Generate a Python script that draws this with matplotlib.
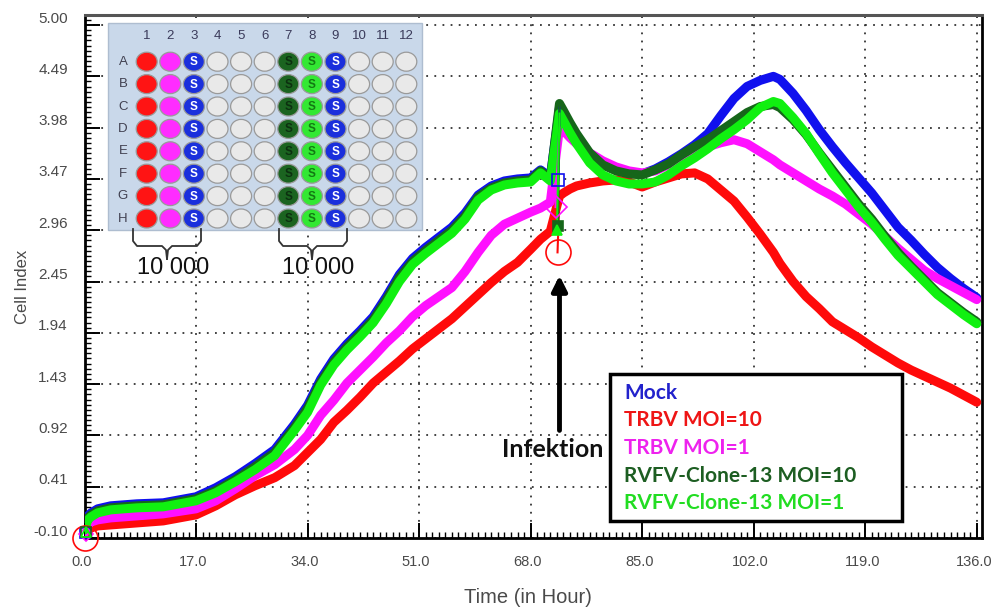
import numpy as np
import matplotlib
matplotlib.use("Agg")
import matplotlib.pyplot as plt
from matplotlib.patches import Ellipse, Rectangle
from matplotlib.ticker import FixedLocator, MultipleLocator
import matplotlib.transforms as mtransforms

# ---------------- data ----------------
time_h = [0, 0.5, 1, 2, 4, 8, 12, 17, 20, 23, 26, 29, 32, 34, 36, 38, 40, 42, 44, 46,
          48, 50, 52, 54, 56, 58, 60, 62, 64, 66, 68, 69.5, 71,
          72.4, 73, 74, 75, 77, 79, 81, 83, 85, 87, 89, 91, 93, 95, 97, 99, 101, 103, 105,
          106, 108, 110, 112, 114, 116, 118, 120, 122, 124, 126, 128, 130, 132, 134, 136]

mock = [0.00, 0.12, 0.15, 0.19, 0.22, 0.24, 0.25, 0.31, 0.40, 0.51, 0.64, 0.78, 1.03, 1.22, 1.48, 1.68,
        1.83, 1.96, 2.10, 2.30, 2.52, 2.68, 2.79, 2.89, 2.99, 3.13, 3.31, 3.40, 3.45, 3.47, 3.48, 3.56, 3.49,
        4.18, 4.10, 3.98, 3.88, 3.72, 3.61, 3.56, 3.53, 3.52, 3.57, 3.64, 3.72, 3.81, 3.92, 4.10, 4.27, 4.39,
        4.45, 4.49, 4.46, 4.32, 4.15, 3.96, 3.79, 3.63, 3.48, 3.33, 3.16, 2.99, 2.86, 2.72, 2.59, 2.48, 2.38, 2.29]

trbv_moi10 = [-0.10, -0.03, 0.00, 0.02, 0.03, 0.05, 0.07, 0.13, 0.22, 0.33, 0.42, 0.50, 0.62, 0.75, 0.88, 1.05,
              1.17, 1.30, 1.44, 1.55, 1.66, 1.78, 1.88, 1.98, 2.08, 2.20, 2.32, 2.44, 2.55, 2.64, 2.77, 2.87, 2.95,
              3.30, 3.33, 3.37, 3.40, 3.43, 3.45, 3.46, 3.44, 3.39, 3.44, 3.48, 3.52, 3.53, 3.47, 3.36, 3.25, 3.09,
              2.92, 2.74, 2.63, 2.45, 2.30, 2.18, 2.05, 1.97, 1.89, 1.80, 1.72, 1.64, 1.57, 1.51, 1.45, 1.39, 1.32, 1.25]

trbv_moi1 = [-0.05, 0.03, 0.06, 0.08, 0.10, 0.12, 0.14, 0.19, 0.27, 0.39, 0.52, 0.63, 0.78, 0.92, 1.12, 1.27,
             1.44, 1.57, 1.70, 1.84, 1.96, 2.10, 2.21, 2.30, 2.39, 2.55, 2.74, 2.91, 3.02, 3.08, 3.14, 3.18, 3.24,
             3.98, 3.95, 3.88, 3.82, 3.73, 3.65, 3.59, 3.55, 3.53, 3.55, 3.61, 3.68, 3.74, 3.79, 3.83, 3.86, 3.82,
             3.74, 3.66, 3.61, 3.53, 3.45, 3.37, 3.30, 3.22, 3.12, 3.02, 2.90, 2.78, 2.67, 2.56, 2.48, 2.41, 2.34, 2.27]

rvfv_moi10 = [-0.01, 0.10, 0.13, 0.17, 0.20, 0.22, 0.23, 0.29, 0.37, 0.48, 0.61, 0.75, 1.00, 1.19, 1.45, 1.65,
              1.80, 1.93, 2.07, 2.27, 2.49, 2.65, 2.76, 2.86, 2.96, 3.10, 3.29, 3.38, 3.43, 3.45, 3.46, 3.55, 3.47,
              4.22, 4.15, 4.03, 3.92, 3.73, 3.61, 3.55, 3.52, 3.51, 3.56, 3.62, 3.71, 3.79, 3.86, 3.95, 4.04, 4.13,
              4.19, 4.21, 4.18, 4.06, 3.91, 3.73, 3.56, 3.39, 3.22, 3.07, 2.90, 2.74, 2.60, 2.47, 2.34, 2.24, 2.14, 2.05]

rvfv_moi1 = [-0.02, 0.08, 0.11, 0.15, 0.18, 0.20, 0.21, 0.27, 0.35, 0.46, 0.58, 0.72, 0.97, 1.15, 1.42, 1.62,
             1.77, 1.90, 2.04, 2.23, 2.45, 2.62, 2.73, 2.83, 2.93, 3.07, 3.26, 3.36, 3.41, 3.43, 3.44, 3.53, 3.45,
             4.12, 4.05, 3.93, 3.82, 3.63, 3.51, 3.45, 3.42, 3.42, 3.44, 3.51, 3.60, 3.68, 3.77, 3.87, 3.96, 4.06,
             4.18, 4.24, 4.22, 4.08, 3.92, 3.72, 3.53, 3.36, 3.19, 3.04, 2.87, 2.71, 2.58, 2.45, 2.32, 2.22, 2.12, 2.03]

series_labels = ["Mock", "TRBV MOI=10", "TRBV MOI=1", "RVFV-Clone-13 MOI=10", "RVFV-Clone-13 MOI=1"]
series_values = [mock, trbv_moi10, trbv_moi1, rvfv_moi10, rvfv_moi1]
line_colors = ["#1010ee", "#ff0a0a", "#ff10ff", "#16661a", "#10f010"]
legend_colors = ["#2222cc", "#ee1515", "#ee22ee", "#1d5e22", "#22dd22"]
draw_order = [1, 0, 2, 3, 4]

# markers at start and at the infection point
start_t = [0.0, 0.0, 0.3, 0.3, 0.3]
start_v = [-0.05, -0.10, -0.06, -0.04, -0.04]
infect_t = [72.2, 72.1, 71.8, 72.2, 72.0]
infect_v = [3.46, 2.74, 3.19, 3.00, 2.96]
marker_styles = ["s", "o", "D", "s", "^"]
marker_sizes_inf = [9, 18, 11, 7, 7]

yticks = [-0.10, 0.41, 0.92, 1.43, 1.94, 2.45, 2.96, 3.47, 3.98, 4.49, 5.00]
ytick_labels = ["-0.10", "0.41", "0.92", "1.43", "1.94", "2.45", "2.96", "3.47", "3.98", "4.49", "5.00"]
xticks = [0, 17, 34, 51, 68, 85, 102, 119, 136]
xtick_labels = ["0.0", "17.0", "34.0", "51.0", "68.0", "85.0", "102.0", "119.0", "136.0"]

# plate inset
plate_rows = list("ABCDEFGH")
plate_cols = [str(i) for i in range(1, 13)]
well_colors = ["#ff1414", "#ff2cff", "#1a2fdc", "#e9e9e9", "#e9e9e9", "#e9e9e9",
               "#1b6420", "#33e833", "#1a2fdc", "#e9e9e9", "#e9e9e9", "#e9e9e9"]
well_marks = ["", "", "S", "", "", "", "S", "S", "S", "", "", ""]
well_mark_colors = ["w", "w", "w", "w", "w", "w", "#0c3010", "#137a13", "w", "w", "w", "w"]
seeding_label = "10 000"

# ---------------- figure ----------------
W, H = 993, 610
fig = plt.figure(figsize=(W / 100, H / 100), dpi=100)
fig.patch.set_facecolor("white")

x0, x1, y0, y1 = 84.5, 982, 538, 15
ax = fig.add_axes([x0 / W, 1 - y0 / H, (x1 - x0) / W, (y0 - y1) / H])
ax.set_xlim(0, 136.8)
ax.set_ylim(-0.10, 5.10)

for i in draw_order:
    ax.plot(time_h, series_values[i], color=line_colors[i], lw=6.5,
            solid_capstyle="round", solid_joinstyle="round", zorder=3 + draw_order.index(i) * 0.1)

for i in range(5):
    c = line_colors[i]
    ax.plot([infect_t[i], time_h[33]], [infect_v[i], series_values[i][33]], color=c, lw=1.5, zorder=4)
    ax.plot(infect_t[i], infect_v[i], marker=marker_styles[i], ms=marker_sizes_inf[i],
            mfc="none" if i < 3 else c, mec=c, mew=1.2, zorder=5, clip_on=False)
    ax.plot(start_t[i], start_v[i], marker=marker_styles[i], ms=marker_sizes_inf[i] if i == 1 else 7,
            mfc="none", mec=c, mew=1.2, zorder=5, clip_on=False)

ax.set_xticks(xticks)
ax.set_xticklabels(xtick_labels)
ax.set_yticks(yticks)
ax.set_yticklabels(ytick_labels)
ax.xaxis.set_minor_locator(MultipleLocator(1.0))
ax.yaxis.set_minor_locator(FixedLocator(np.arange(-0.10, 5.10, 0.051)))
ax.tick_params(which="major", direction="in", length=11, width=1.4, color="black",
               labelcolor="#4a4a4a", pad=12)
ax.tick_params(axis="y", which="major", labelsize=11)
ax.tick_params(axis="x", which="major", labelsize=10.5)
ax.tick_params(which="minor", direction="in", length=4.5, width=1.0, color="black")
for lab in ax.get_xticklabels() + ax.get_yticklabels():
    lab.set_fontfamily("Liberation Sans")
offset_y = mtransforms.ScaledTranslation(0, 8 / 100, fig.dpi_scale_trans)
for lab in ax.get_yticklabels():
    lab.set_transform(lab.get_transform() + offset_y)
offset_x = mtransforms.ScaledTranslation(-3 / 100, 0, fig.dpi_scale_trans)
for lab in ax.get_xticklabels():
    lab.set_transform(lab.get_transform() + offset_x)

ax.grid(True, which="major", linestyle=(0, (1, 3.5)), color="#333333", lw=1.3)
for s in ["left", "bottom", "right"]:
    ax.spines[s].set_linewidth(2)
    ax.spines[s].set_color("black")
ax.spines["top"].set_linewidth(2.2)
ax.spines["top"].set_color("#555555")

ax.set_ylabel("Cell Index", fontsize=12, color="#4a4a4a", family="Liberation Sans", va="center")
ax.yaxis.set_label_coords(-0.0696, 0.48)
ax.set_xlabel("Time (in Hour)", fontsize=14.5, color="#4a4a4a", family="Liberation Sans", va="center")
ax.xaxis.set_label_coords(0.494, -0.113)

# infection arrow
ax.annotate("", xy=(72.4, 2.51), xytext=(72.4, 0.97),
            arrowprops=dict(arrowstyle="-|>,head_length=0.9,head_width=0.45", lw=3.5,
                            color="black", shrinkA=0, shrinkB=0), zorder=6)
ax.text(71.4, 0.78, "Infektion", ha="center", va="center", fontsize=18,
        fontweight="bold", family="Lato", color="#111111", zorder=6)

# ---------------- overlay in pixel coordinates ----------------
ov = fig.add_axes([0, 0, 1, 1], zorder=10)
ov.set_xlim(0, W)
ov.set_ylim(H, 0)
ov.axis("off")
ov.patch.set_alpha(0)

ov.add_patch(Rectangle((108, 23), 314, 207, fc="#c9d8ea", ec="#aebdd0", lw=1))
cx0, dx = 146.7, 23.6
ry0, dy = 61.7, 22.4
for j, col in enumerate(plate_cols):
    ov.text(cx0 + j * dx, 36, col, ha="center", va="center", fontsize=9.5,
            color="#3a3a5a", family="Liberation Sans")
for r, row in enumerate(plate_rows):
    yy = ry0 + r * dy
    ov.text(123, yy, row, ha="center", va="center", fontsize=9.5,
            color="#404050", family="Liberation Sans")
    for j in range(12):
        xx = cx0 + j * dx
        ov.add_patch(Ellipse((xx, yy), 21, 19, fc=well_colors[j], ec="#9a9a9a", lw=0.9))
        if well_marks[j]:
            ov.text(xx, yy + 0.5, well_marks[j], ha="center", va="center", fontsize=8.5,
                    fontweight="bold", color=well_mark_colors[j], family="Liberation Sans")

def brace(xl, xr, xc, ytop=229, ymid=246, ybot=259):
    pts_l = [(xl, ytop), (xl, ymid - 5), (xl + 4, ymid), (xc - 5, ymid), (xc - 1, ymid + 4), (xc, ybot)]
    pts_r = [(xr, ytop), (xr, ymid - 5), (xr - 4, ymid), (xc + 5, ymid), (xc + 1, ymid + 4), (xc, ybot)]
    for pts in (pts_l, pts_r):
        ov.plot([p[0] for p in pts], [p[1] for p in pts], color="#333333", lw=1.3)

brace(133, 201, 167)
brace(279, 347, 312)
ov.text(173, 268, seeding_label, ha="center", va="center", fontsize=17, family="Liberation Sans", color="#111111")
ov.text(318, 268, seeding_label, ha="center", va="center", fontsize=17, family="Liberation Sans", color="#111111")

# legend box
ov.add_patch(Rectangle((610, 374), 292, 147, fc="white", ec="black", lw=2.5))
for k, lab in enumerate(series_labels):
    ov.text(624, 393 + k * 27.5, lab, ha="left", va="center", fontsize=15,
            fontweight="bold", family="Lato", color=legend_colors[k])

fig.savefig("out.png", dpi=100)
